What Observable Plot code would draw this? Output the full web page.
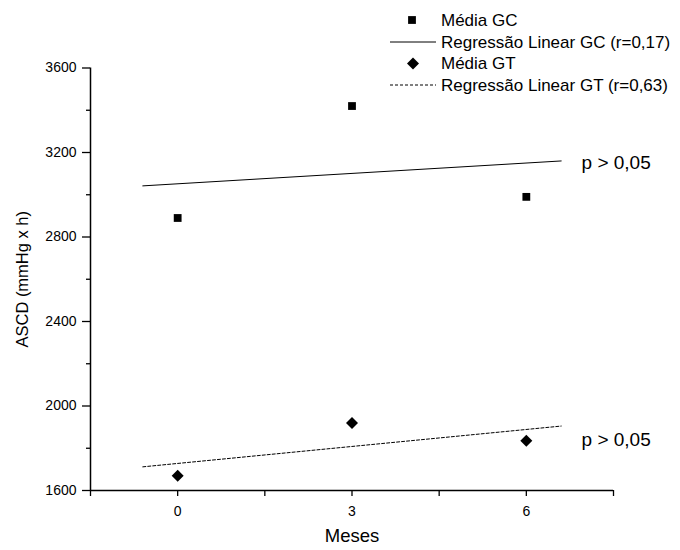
<!DOCTYPE html>
<html>
<head>
<meta charset="utf-8">
<script src="https://cdn.jsdelivr.net/npm/d3@7"></script>
<script src="https://cdn.jsdelivr.net/npm/@observablehq/plot@0.6"></script>
<style>
  html, body { margin: 0; padding: 0; background: white; }
  #chart { width: 680px; height: 550px; }
</style>
</head>
<body>
<div id="chart"></div>
<script>
// ---- data ----
const months = [0, 3, 6];
const mediaGC = [2890, 3420, 2990];
const mediaGT = [1670, 1920, 1835];
const regX = [-0.6, 6.6];
const regGC = [3042, 3160];
const regGT = [1712, 1905];
const pLabel = "p > 0,05";
const pLabelX = 6.95;
const pLabelY = [3150, 1838];
const yMajorTicks = [1600, 2000, 2400, 2800, 3200, 3600];
const yMinorTicks = [1800, 2200, 2600, 3000, 3400];
const xMajorTicks = [0, 3, 6];
const xMinorTicks = [-1.5, 1.5, 4.5, 7.5];
const xTitle = "Meses";
const yTitle = "ASCD (mmHg x h)";
const legendLabels = ["Média GC", "Regressão Linear GC (r=0,17)", "Média GT", "Regressão Linear GT (r=0,63)"];

const gcPts = months.map((m, i) => ({x: m, y: mediaGC[i]}));
const gtPts = months.map((m, i) => ({x: m, y: mediaGT[i]}));
const gcLine = regX.map((x, i) => ({x, y: regGC[i]}));
const gtLine = regX.map((x, i) => ({x, y: regGT[i]}));
const pPts = pLabelY.map(y => ({x: pLabelX, y}));

const font = "'Liberation Sans', Arial, Helvetica, sans-serif";

const chart = Plot.plot({
  width: 680,
  height: 550,
  marginLeft: 90,
  marginRight: 67,
  marginTop: 67.5,
  marginBottom: 60,
  style: {fontFamily: font, background: "white", color: "black", overflow: "visible"},
  x: {domain: [-1.5, 7.5]},
  y: {domain: [1600, 3600]},
  marks: [
    Plot.axisY({ticks: yMajorTicks, tickSize: 8, tickPadding: 6, fontSize: 14, label: null, tickFormat: d3.format("d"), strokeWidth: 1.3}),
    Plot.axisY({ticks: yMinorTicks, tickSize: 4, tickFormat: () => "", label: null, strokeWidth: 1.3}),
    Plot.axisX({ticks: xMajorTicks, tickSize: 6, tickPadding: 10, fontSize: 14, label: null, tickFormat: d3.format("d"), strokeWidth: 1.3}),
    Plot.axisX({ticks: xMinorTicks, tickSize: 6, tickFormat: () => "", label: null, strokeWidth: 1.3}),
    Plot.ruleX([-1.5], {y1: 1600, y2: 3600, stroke: "black", strokeWidth: 1.5}),
    Plot.ruleY([1600], {x1: -1.5, x2: 7.5, stroke: "black", strokeWidth: 1.5}),
    Plot.line(gcLine, {x: "x", y: "y", stroke: "black", strokeWidth: 1}),
    Plot.line(gtLine, {x: "x", y: "y", stroke: "black", strokeWidth: 1, strokeDasharray: "3,2"}),
    Plot.dot(gcPts, {x: "x", y: "y", symbol: "square", r: 4.4, fill: "black", stroke: null}),
    Plot.dot(gtPts, {x: "x", y: "y", symbol: "diamond2", r: 5.4, fill: "black", stroke: null}),
    Plot.text(pPts, {x: "x", y: "y", text: () => pLabel, textAnchor: "start", fontSize: 19, fill: "black"}),
    Plot.text([xTitle], {frameAnchor: "bottom", dy: 51, text: d => d, textAnchor: "middle", fontSize: 18.5, fill: "black"}),
    Plot.text([yTitle], {frameAnchor: "left", dx: -68, rotate: -90, text: d => d, textAnchor: "middle", fontSize: 16.5, fill: "black"})
  ]
});

// ---- legend (drawn into the same SVG) ----
const svg = d3.select(chart);
const lg = svg.append("g")
  .attr("font-family", font)
  .attr("font-size", 17)
  .attr("fill", "black")
  .attr("text-anchor", "start");
const rowY = [20, 42, 63.5, 85];
const textX = 441;
// row 1: square marker
lg.append("path").attr("d", d3.symbol(d3.symbolSquare, 4.4 * 4.4 * Math.PI)()).attr("transform", `translate(412,${rowY[0]})`).attr("fill", "black");
// row 2: solid line
lg.append("line").attr("x1", 390).attr("x2", 436).attr("y1", rowY[1]).attr("y2", rowY[1]).attr("stroke", "black").attr("stroke-width", 1);
// row 3: diamond
lg.append("path").attr("d", d3.symbol(d3.symbolDiamond2, 5.4 * 5.4 * Math.PI)()).attr("transform", `translate(413,${rowY[2]})`).attr("fill", "black");
// row 4: dashed line
lg.append("line").attr("x1", 390).attr("x2", 436).attr("y1", rowY[3]).attr("y2", rowY[3]).attr("stroke", "black").attr("stroke-width", 1).attr("stroke-dasharray", "3,2");
legendLabels.forEach((t, i) => {
  lg.append("text").attr("x", textX).attr("y", rowY[i]).attr("dy", "0.35em").attr("text-anchor", "start").text(t);
});

document.getElementById("chart").appendChild(chart);
</script>
</body>
</html>
